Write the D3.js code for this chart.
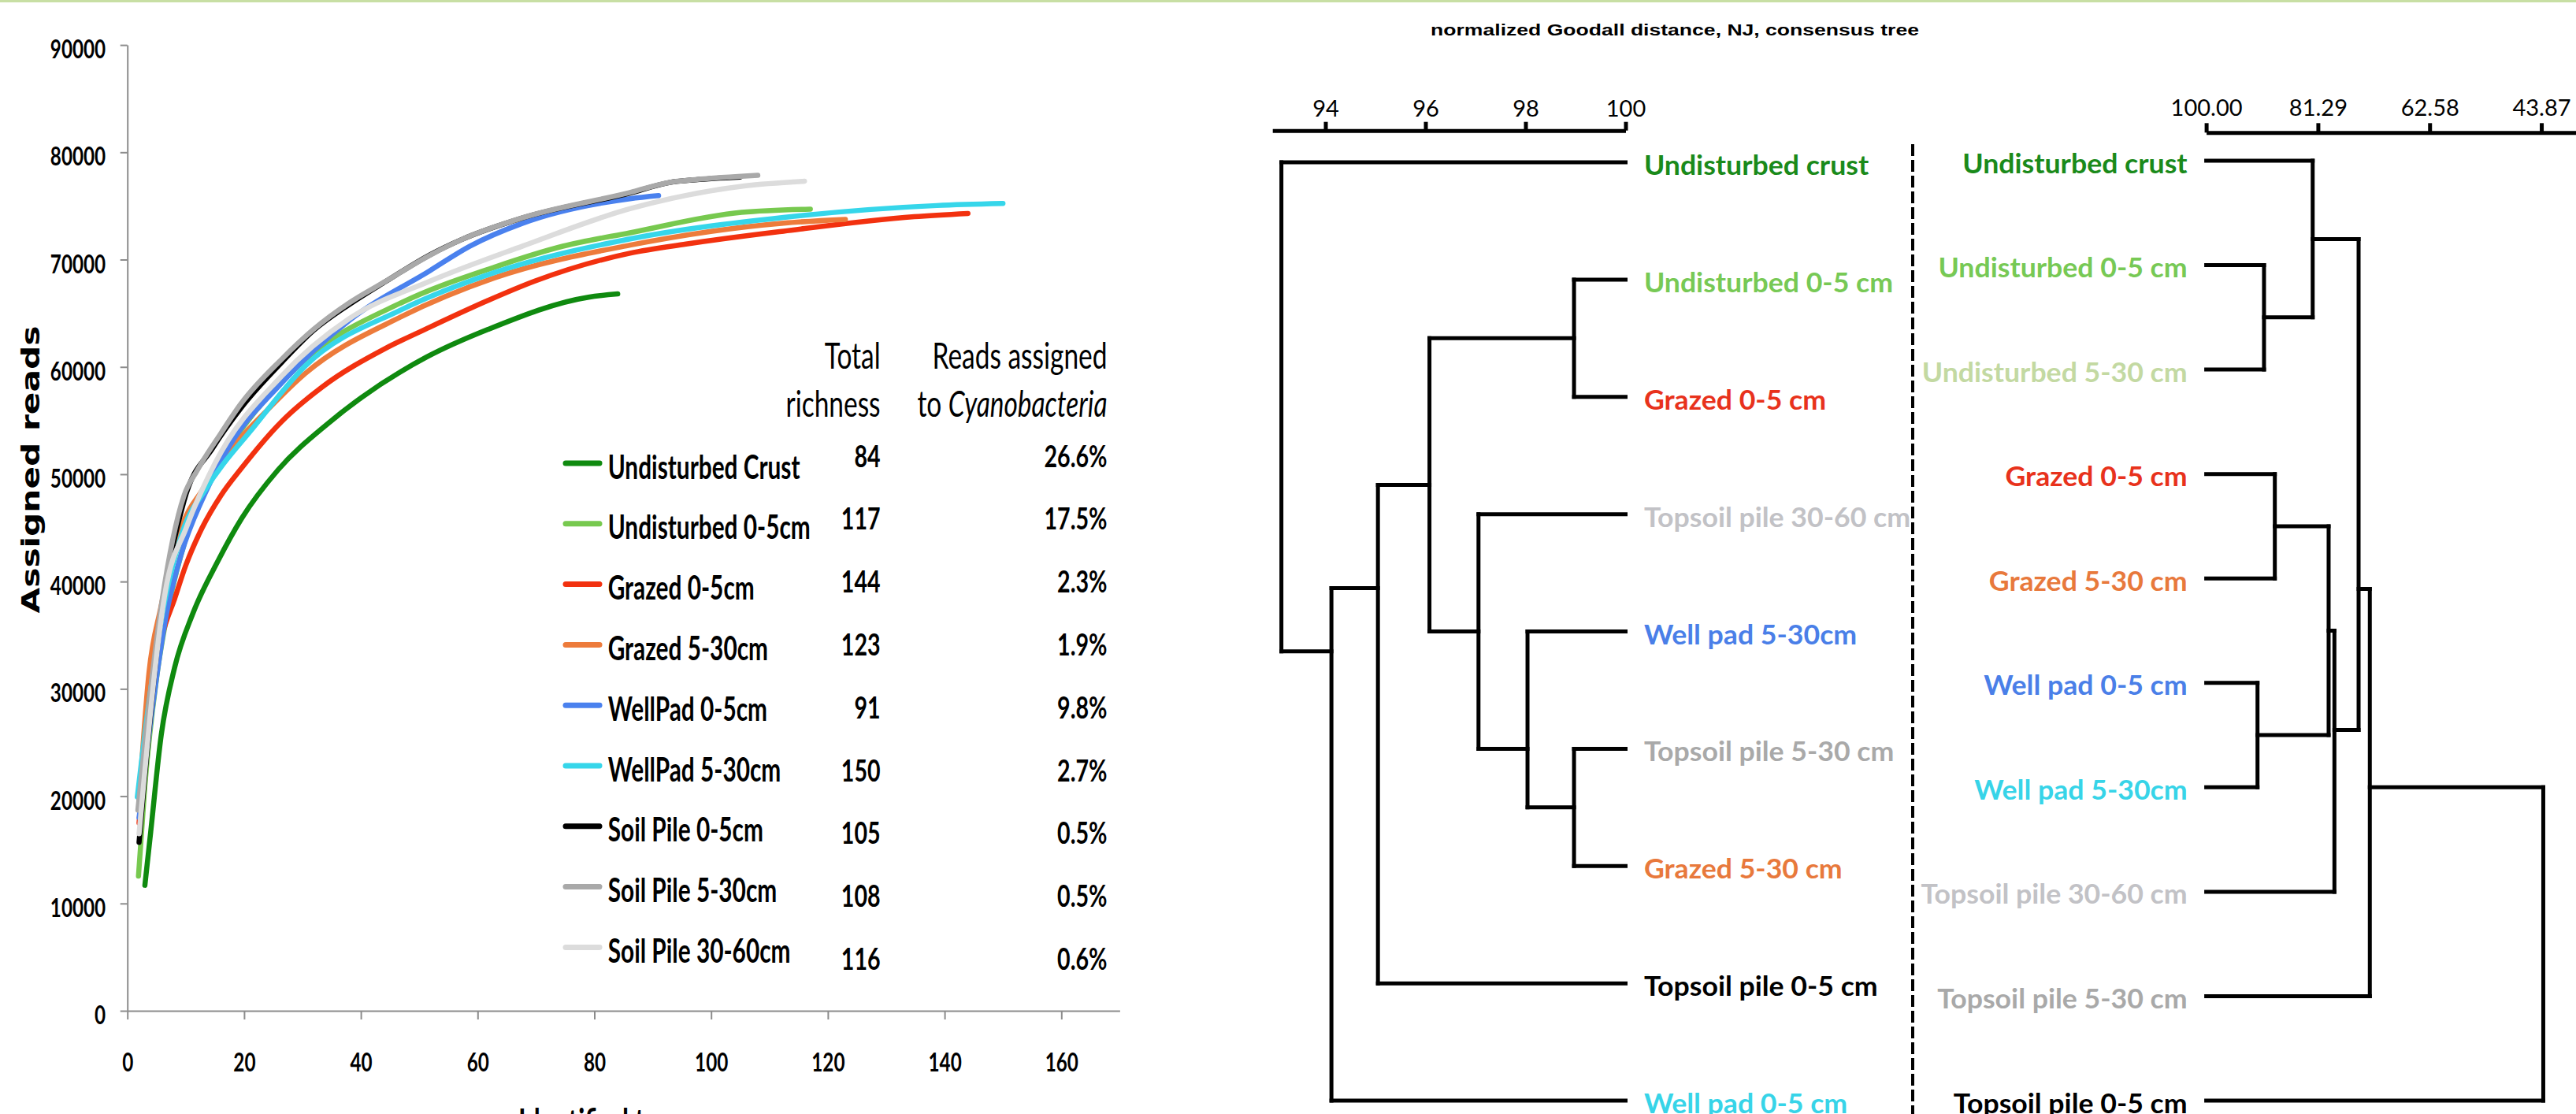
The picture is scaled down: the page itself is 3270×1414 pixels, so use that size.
<!DOCTYPE html>
<html>
<head>
<meta charset="utf-8">
<script src="https://cdn.jsdelivr.net/npm/d3@7"></script>
<style>
  html, body { margin: 0; padding: 0; background: #ffffff; }
  svg { display: block; }
</style>
</head>
<body>
<script>
// ---------------- DATA ----------------
// Rarefaction curves: [identified taxa, assigned reads]
const undisturbedCrust = [[3,11700],[4,16700],[5.8,25700],[8.1,32000],[11.2,37000],[15.5,41900],[19.6,45900],[25.8,50400],[34.3,54700],[40.1,57150],[51.2,60900],[61.8,63500],[79,66500],[84,66800]];
const undisturbed0to5 = [[1.9,12550],[3,21000],[5,31000],[7,37500],[10,44000],[14,49500],[20,54500],[30.5,60700],[47,66000],[62.9,69300],[74.6,71250],[86.1,72500],[105.2,74400],[117,74700]];
const grazed0to5 = [[2,17500],[4,29000],[6,35000],[8.1,38400],[10,41500],[12.8,45000],[16,48000],[19.6,50600],[26.4,54900],[33.3,58100],[44.3,61750],[51.2,63550],[61.8,66200],[69.8,68000],[86.1,70600],[95.7,71450],[112.4,72650],[134.8,74000],[144,74300]];
const grazed5to30 = [[2,19500],[3.7,31500],[5.7,37500],[9.2,45000],[12.8,48500],[18,52500],[24,56000],[30.5,59400],[47,64700],[62.9,68300],[86.1,71350],[112.4,73400],[123,73750]];
const wellPad0to5 = [[2,18000],[4,27000],[6.7,37000],[9.2,42500],[13.3,48200],[16.7,51900],[26.4,58490],[38.1,64370],[51.8,68960],[58.7,71260],[67.7,73390],[86.1,75680],[91,75970]];
const wellPad5to30 = [[1.7,19930],[4,30000],[6,37000],[9.7,45040],[13.3,48500],[21.8,54500],[30.5,60100],[47,65350],[62.9,68800],[86.1,71930],[112.4,73930],[138.7,75040],[150,75230]];
const soilPile0to5 = [[2,15700],[5.6,36000],[9.7,47500],[14.7,52500],[19.5,56200],[26.4,60400],[31.9,63400],[38.1,65850],[44.3,67980],[51.8,70440],[57.4,71900],[67.7,73880],[86.1,76200],[92.9,77190],[97.3,77440],[105,77700]];
const soilPile5to30 = [[1.8,18700],[5.6,36960],[9.7,48000],[11.9,50300],[16,53800],[19.5,56600],[26.4,60700],[31.9,63500],[38.1,66000],[44.3,68000],[51.8,70400],[57.4,71900],[67.7,73900],[86.1,76250],[92.9,77200],[97.3,77450],[108,77850]];
const soilPile30to60 = [[2,16500],[6.5,39060],[10.1,45040],[15,51000],[26.4,59140],[38,64500],[51.8,67980],[67.7,71260],[86.1,74740],[105.7,76870],[116,77310]];

const seriesNames = ["Undisturbed Crust","Undisturbed 0-5cm","Grazed 0-5cm","Grazed 5-30cm","WellPad 0-5cm","WellPad 5-30cm","Soil Pile 0-5cm","Soil Pile 5-30cm","Soil Pile 30-60cm"];
const seriesValues = [undisturbedCrust, undisturbed0to5, grazed0to5, grazed5to30, wellPad0to5, wellPad5to30, soilPile0to5, soilPile5to30, soilPile30to60];
const totalRichness = [84,117,144,123,91,150,105,108,116];
const readsCyano = ["26.6%","17.5%","2.3%","1.9%","9.8%","2.7%","0.5%","0.5%","0.6%"];

const xTicks = [0,20,40,60,80,100,120,140,160];
const yTicks = [0,10000,20000,30000,40000,50000,60000,70000,80000,90000];
const xLabel = "Identified taxa";
const yLabel = "Assigned reads";

// Dendrograms
const treeTitle = "normalized Goodall distance, NJ, consensus tree";
const leafDistance = 100;
const leftLeaves = ["Undisturbed crust","Undisturbed 0-5 cm","Grazed 0-5 cm","Topsoil pile 30-60 cm","Well pad 5-30cm","Topsoil pile 5-30 cm","Grazed 5-30 cm","Topsoil pile 0-5 cm","Well pad 0-5 cm"];
const leftTicks = [94,96,98,100];
// internal nodes: d = distance, row = drawn position in leaf-slot units
const leftTree = {d:93.12, children:[
  {leaf:0},
  {d:94.12, row:4.17, children:[
    {d:95.05, row:3.63, children:[
      {d:96.08, row:2.75, children:[
        {d:98.97, row:1.5, children:[{leaf:1},{leaf:2}]},
        {d:97.06, row:4.0, children:[
          {leaf:3},
          {d:98.04, row:5.0, children:[
            {leaf:4},
            {d:98.97, row:5.5, children:[{leaf:5},{leaf:6}]}
          ]}
        ]}
      ]},
      {leaf:7}
    ]},
    {leaf:8}
  ]}
]};

const rightLeaves = ["Undisturbed crust","Undisturbed 0-5 cm","Undisturbed 5-30 cm","Grazed 0-5 cm","Grazed 5-30 cm","Well pad 0-5 cm","Well pad 5-30cm","Topsoil pile 30-60 cm","Topsoil pile 5-30 cm","Topsoil pile 0-5 cm"];
const rightTicks = [100.00,81.29,62.58,43.87];
const rightTree = {d:43.55, children:[
  {d:72.6, row:6.0, children:[
    {d:74.48, row:4.1, children:[
      {d:82.17, row:0.75, children:[
        {leaf:0},
        {d:90.32, row:1.5, children:[{leaf:1},{leaf:2}]}
      ]},
      {d:78.53, row:5.45, children:[
        {d:79.5, row:4.5, children:[
          {d:88.51, row:3.5, children:[{leaf:3},{leaf:4}]},
          {d:91.41, row:5.5, children:[{leaf:5},{leaf:6}]}
        ]},
        {leaf:7}
      ]}
    ]},
    {leaf:8}
  ]},
  {leaf:9}
]};

// ---------------- STYLES ----------------
const seriesColors = ["#0f8a0f","#77c94f","#f2310f","#ed7b3b","#4a81ee","#36d6ea","#000000","#a9a9a9","#dcdcdc"];
const leftLeafColors = ["#1a8a1a","#77c955","#e8321c","#c2c2c6","#4a7fe8","#a9a9a9","#e8793c","#000000","#37d4e8"];
const rightLeafColors = ["#1a8a1a","#77c955","#c3d9a2","#e8321c","#e8793c","#4a7fe8","#37d4e8","#c2c2c6","#a9a9a9","#000000"];
const SANS = "Lato, 'Open Sans', 'Noto Sans', sans-serif";

// ---------------- SETUP ----------------
const W = 3270, H = 1414;
const svg = d3.select("body").append("svg").attr("width", W).attr("height", H);
svg.append("rect").attr("width", W).attr("height", H).attr("fill", "#ffffff");
svg.append("rect").attr("x", 0).attr("y", 0).attr("width", W).attr("height", 3).attr("fill", "#c8dfa4");

function measure(str, family, weight, size, style) {
  const t = svg.append("text").attr("font-family", family).attr("font-weight", weight)
    .attr("font-size", size).attr("font-style", style || "normal").text(str);
  const w = t.node().getComputedTextLength();
  t.remove();
  return w;
}
function fit(str, family, weight, size, target) { return target / measure(str, family, weight, size); }

function label(parent, x, y, str, o) {
  const g = parent.append("g").attr("transform", `translate(${x},${y}) scale(${o.kx},1)`);
  const t = g.append("text")
    .attr("text-anchor", o.anchor || "start")
    .attr("font-family", o.family || SANS)
    .attr("font-weight", o.weight || 700)
    .attr("font-size", o.size)
    .attr("fill", o.fill || "#000");
  if (str !== null) t.text(str);
  return t;
}

// ---------------- LEFT CHART ----------------
const x = d3.scaleLinear().domain([0, 170]).range([161.7, 1421.4]);
const y = d3.scaleLinear().domain([0, 90000]).range([1283, 57.1]);

const tickSize = 32;
const kTick = fit("90000", SANS, 700, tickSize, 70.4);

const gy = svg.append("g").attr("transform", `translate(${x(0)},0)`)
  .call(d3.axisLeft(y).tickValues(yTicks).tickSize(9).tickSizeOuter(0).tickFormat(d3.format("d")));
const gx = svg.append("g").attr("transform", `translate(0,${y(0)})`)
  .call(d3.axisBottom(x).tickValues(xTicks).tickSize(11).tickSizeOuter(0).tickFormat(d3.format("d")));
[gx, gy].forEach(g => {
  g.select(".domain").attr("stroke", "#8c8c8c").attr("stroke-width", 2);
  g.selectAll(".tick line").attr("stroke", "#8c8c8c").attr("stroke-width", 2);
  g.selectAll(".tick text").attr("font-family", SANS).attr("font-weight", 700)
    .attr("font-size", tickSize).attr("fill", "#000").attr("x", null).attr("y", null).attr("dy", null);
});
gy.selectAll(".tick text").attr("text-anchor", "end").attr("transform", `translate(-27.5,16.5) scale(${kTick},1)`);
gx.selectAll(".tick text").attr("text-anchor", "middle").attr("transform", `translate(0,77.3) scale(${kTick},1)`);

// axis titles
const kY = fit(yLabel, "'DejaVu Sans', sans-serif", 700, 32, 365);
svg.append("text")
  .attr("transform", `translate(50,596) rotate(-90) scale(${kY},1)`)
  .attr("text-anchor", "middle").attr("font-family", "'DejaVu Sans', sans-serif")
  .attr("font-weight", 700).attr("font-size", 32).attr("fill", "#000").text(yLabel);

const kLeg = fit("Undisturbed Crust", SANS, 700, 42, 244);
label(svg, 658, 1440, xLabel, {kx: kLeg, size: 46});

// curves
const line = d3.line().x(d => x(d[0])).y(d => y(d[1])).curve(d3.curveMonotoneX);
const gc = svg.append("g");
seriesValues.forEach((vals, i) => {
  gc.append("path").attr("d", line(vals)).attr("fill", "none")
    .attr("stroke", seriesColors[i]).attr("stroke-width", 6.5)
    .attr("stroke-linecap", "round").attr("stroke-linejoin", "round");
});

// legend table
const kHead = fit("Reads assigned", SANS, 400, 46, 222);
const hOpt = {kx: kHead, size: 46, weight: 400, anchor: "end"};
label(svg, 1117.6, 468.2, "Total", hOpt);
label(svg, 1117.6, 528.8, "richness", hOpt);
label(svg, 1405.5, 468.2, "Reads assigned", hOpt);
const tc = label(svg, 1405.5, 528.8, null, hOpt);
tc.append("tspan").text("to ");
tc.append("tspan").attr("font-style", "italic").text("Cyanobacteria");

const kNum = fit("26.6%", SANS, 700, 37.7, 80);
const legRow = d3.scaleLinear().domain([0, 1]).range([588, 664.8]);
const numRow = d3.scaleLinear().domain([0, 1]).range([592.5, 672.3]);
seriesNames.forEach((name, i) => {
  const ly = legRow(i);
  svg.append("line").attr("x1", 718).attr("x2", 761).attr("y1", ly).attr("y2", ly)
    .attr("stroke", seriesColors[i]).attr("stroke-width", 7).attr("stroke-linecap", "round");
  label(svg, 771.7, ly + 19.5, name, {kx: kLeg, size: 42});
  label(svg, 1117.6, numRow(i), String(totalRichness[i]), {kx: kNum, size: 37.7, anchor: "end"});
  label(svg, 1405.5, numRow(i), readsCyano[i], {kx: kNum, size: 37.7, anchor: "end"});
});

// ---------------- DENDROGRAMS ----------------
const kTitle = fit(treeTitle, "'Liberation Sans', Arial, sans-serif", 700, 21, 620);
label(svg, 2126, 44.8, treeTitle, {kx: kTitle, size: 21, family: "'Liberation Sans', Arial, sans-serif", anchor: "middle"});

const kDen = fit("Undisturbed 5-30 cm", SANS, 700, 34.8, 337);
const kDTick = fit("100.00", SANS, 400, 29.3, 91);

function drawTree(g, root, xs, ys) {
  const nx = n => n.leaf !== undefined ? xs(leafDistance) : xs(n.d);
  const ny = n => n.leaf !== undefined ? ys(n.leaf) : ys(n.row);
  (function rec(n) {
    if (!n.children) return;
    const px = xs(n.d);
    const cy = n.children.map(ny);
    g.append("line").attr("x1", px).attr("x2", px).attr("y1", d3.min(cy)).attr("y2", d3.max(cy));
    n.children.forEach(c => {
      g.append("line").attr("x1", px).attr("x2", nx(c)).attr("y1", ny(c)).attr("y2", ny(c));
      rec(c);
    });
  })(root);
  g.selectAll("line").attr("stroke", "#000").attr("stroke-width", 5).attr("stroke-linecap", "square");
}

// left tree
const xl = d3.scaleLinear().domain([92.94, 100]).range([1615.2, 2063.5]);
const yl = d3.scaleLinear().domain([0, leftLeaves.length - 1]).range([206, 1397]);
const axL = svg.append("g").attr("transform", "translate(0,165.7)")
  .call(d3.axisTop(xl).tickValues(leftTicks).tickSize(11).tickSizeOuter(0).tickPadding(6.4).tickFormat(d3.format("d")));
drawTree(svg.append("g"), leftTree, xl, yl);
leftLeaves.forEach((name, i) => {
  label(svg, 2086.9, yl(i) + 16, name, {kx: kDen, size: 34.8, fill: leftLeafColors[i]});
});

// right tree
const xr = d3.scaleLinear().domain([100, 38.07]).range([2800.6, 3270]);
const yr = d3.scaleLinear().domain([0, rightLeaves.length - 1]).range([204, 1397]);
const axR = svg.append("g").attr("transform", "translate(0,168.3)")
  .call(d3.axisTop(xr).tickValues(rightTicks).tickSize(12).tickSizeOuter(0).tickPadding(9.6).tickFormat(d3.format(".2f")));
drawTree(svg.append("g"), rightTree, xr, yr);
rightLeaves.forEach((name, i) => {
  label(svg, 2776.6, yr(i) + 15.6, name, {kx: kDen, size: 34.8, fill: rightLeafColors[i], anchor: "end"});
});

[axL, axR].forEach(g => {
  g.select(".domain").attr("stroke", "#000").attr("stroke-width", 5);
  g.selectAll(".tick line").attr("stroke", "#000").attr("stroke-width", 5);
  g.selectAll(".tick text").attr("font-family", SANS).attr("font-weight", 400)
    .attr("font-size", 29.3).attr("fill", "#000")
    .each(function() {
      const t = d3.select(this);
      const yy = +t.attr("y");
      t.attr("y", null).attr("transform", `translate(0,${yy}) scale(${kDTick},1)`);
    });
});

// dashed divider
svg.append("line").attr("x1", 2428).attr("x2", 2428).attr("y1", 183).attr("y2", H)
  .attr("stroke", "#000").attr("stroke-width", 4).attr("stroke-dasharray", "15,5");
</script>
</body>
</html>
